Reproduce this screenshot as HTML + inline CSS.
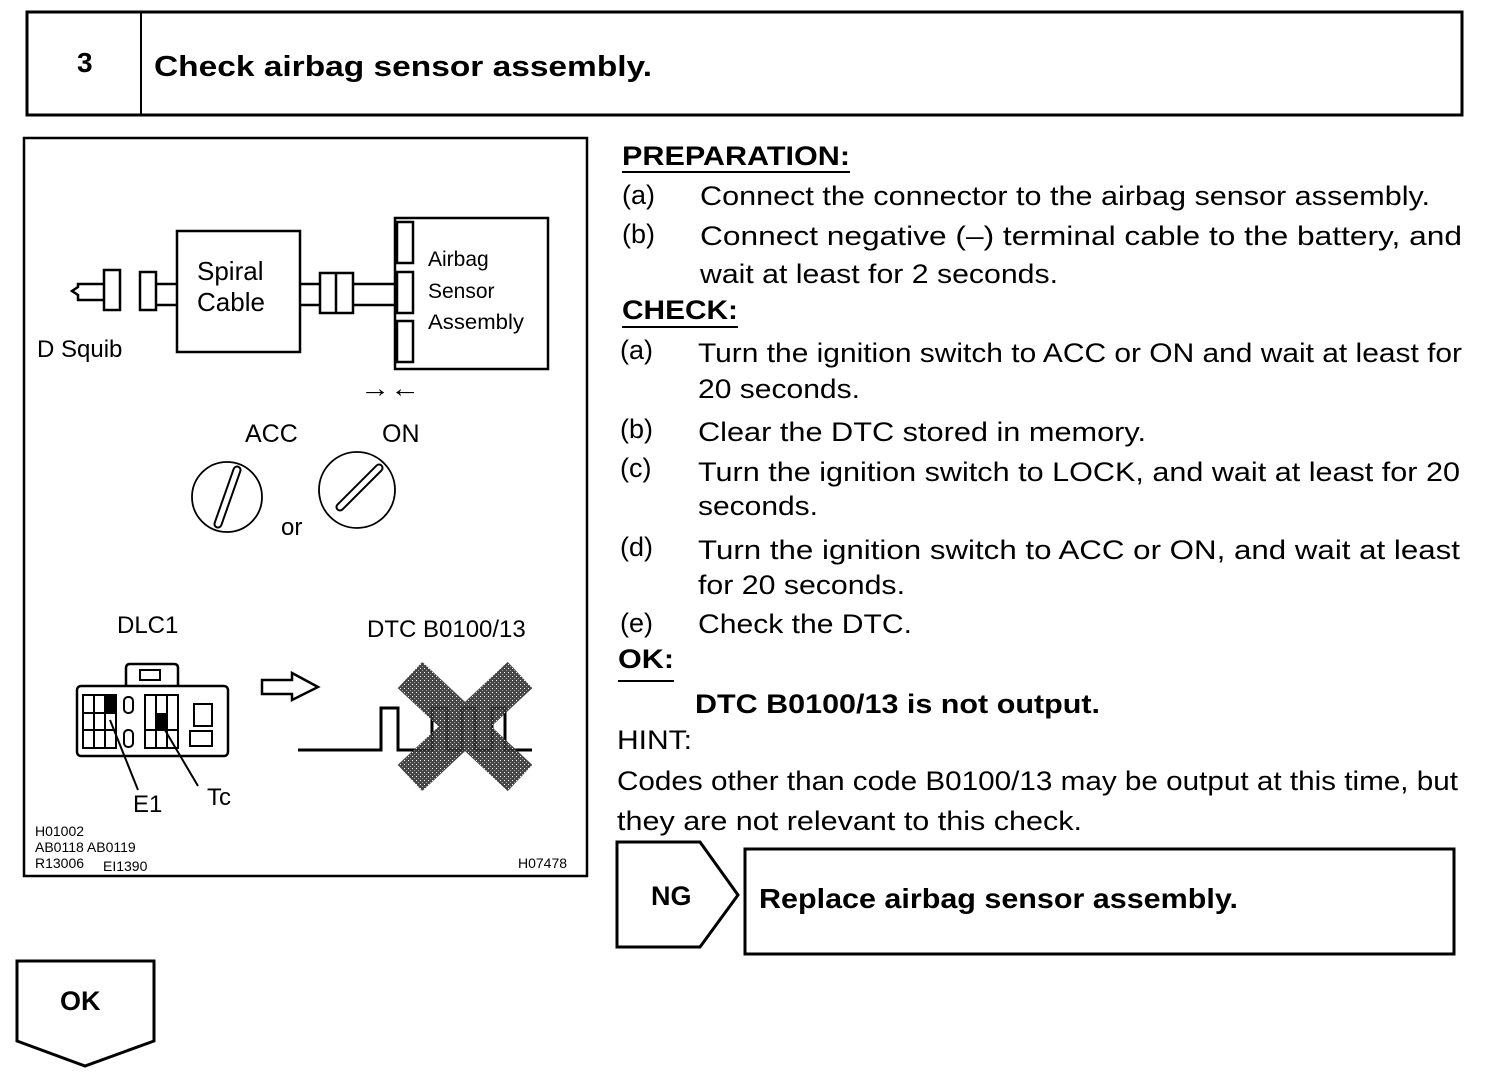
<!DOCTYPE html>
<html><head><meta charset="utf-8"><style>
html,body{margin:0;padding:0;background:#fff;}
svg{display:block;}
text{font-family:"Liberation Sans",Arial,sans-serif;fill:#000;}
.b{font-weight:bold;}
</style></head><body>
<svg width="1504" height="1074" viewBox="0 0 1504 1074" xmlns="http://www.w3.org/2000/svg">
<defs>
<pattern id="dots" width="4" height="4" patternUnits="userSpaceOnUse">
<rect width="4" height="4" fill="#333"/><rect x="0" y="0" width="1" height="1" fill="#fff"/><rect x="2" y="2" width="1" height="1" fill="#999"/>
</pattern>
</defs>
<rect x="27" y="12" width="1435" height="103" fill="none" stroke="#000" stroke-width="3"/>
<line x1="141" y1="12" x2="141" y2="115" stroke="#000" stroke-width="2"/>
<text x="77" y="72" font-size="28" class="b">3</text>
<text x="154" y="76" font-size="29" class="b" textLength="498" lengthAdjust="spacingAndGlyphs">Check airbag sensor assembly.</text>

<rect x="24" y="138" width="563" height="738" fill="none" stroke="#000" stroke-width="2.5"/>

<polyline points="103,284 78,284 78,287 72,291 78,295 78,300 103,300" fill="none" stroke="#000" stroke-width="2.5"/>
<rect x="104" y="270" width="16" height="40" fill="#fff" stroke="#000" stroke-width="2.5"/>
<rect x="140" y="272" width="16" height="38" fill="#fff" stroke="#000" stroke-width="2.5"/>
<line x1="156" y1="284" x2="177" y2="284" stroke="#000" stroke-width="2.5"/>
<line x1="156" y1="305" x2="177" y2="305" stroke="#000" stroke-width="2.5"/>
<rect x="177" y="231" width="123" height="121" fill="none" stroke="#000" stroke-width="2.5"/>
<text x="197" y="280" font-size="26">Spiral</text>
<text x="197" y="311" font-size="26">Cable</text>
<line x1="300" y1="284" x2="320" y2="284" stroke="#000" stroke-width="2.5"/>
<line x1="300" y1="305" x2="320" y2="305" stroke="#000" stroke-width="2.5"/>
<rect x="320" y="273" width="33" height="40" fill="#fff" stroke="#000" stroke-width="2.5"/>
<line x1="336" y1="273" x2="336" y2="313" stroke="#000" stroke-width="2.5"/>
<line x1="353" y1="284" x2="397" y2="284" stroke="#000" stroke-width="2.5"/>
<line x1="353" y1="305" x2="397" y2="305" stroke="#000" stroke-width="2.5"/>
<rect x="395" y="218" width="153" height="151" fill="none" stroke="#000" stroke-width="2.5"/>
<rect x="397" y="222" width="16" height="41" fill="#fff" stroke="#000" stroke-width="2.5"/>
<rect x="397" y="272" width="16" height="41" fill="#fff" stroke="#000" stroke-width="2.5"/>
<rect x="397" y="321" width="16" height="41" fill="#fff" stroke="#000" stroke-width="2.5"/>
<text x="428" y="266" font-size="21">Airbag</text>
<text x="428" y="298" font-size="21">Sensor</text>
<text x="428" y="329" font-size="21" textLength="96" lengthAdjust="spacingAndGlyphs">Assembly</text>
<text x="37" y="357" font-size="24">D Squib</text>
<text x="360" y="397" font-size="26" textLength="60" lengthAdjust="spacingAndGlyphs">→←</text>

<text x="245" y="442" font-size="25">ACC</text>
<text x="382" y="442" font-size="25">ON</text>
<circle cx="227" cy="497" r="35" fill="none" stroke="#000" stroke-width="1.8"/>
<line x1="237" y1="470" x2="218" y2="524" stroke="#000" stroke-width="9" stroke-linecap="round"/>
<line x1="237" y1="470" x2="218" y2="524" stroke="#fff" stroke-width="5" stroke-linecap="round"/>
<circle cx="357" cy="490" r="38" fill="none" stroke="#000" stroke-width="1.8"/>
<line x1="379" y1="468" x2="340" y2="507" stroke="#000" stroke-width="9" stroke-linecap="round"/>
<line x1="379" y1="468" x2="340" y2="507" stroke="#fff" stroke-width="5" stroke-linecap="round"/>
<text x="281" y="535" font-size="24">or</text>

<text x="117" y="633" font-size="24">DLC1</text>
<text x="367" y="637" font-size="24">DTC B0100/13</text>
<path d="M126,686 V668 Q126,664 130,664 H174 Q178,664 178,668 V686" fill="none" stroke="#000" stroke-width="2.5"/>
<rect x="140" y="670" width="20" height="10" fill="none" stroke="#000" stroke-width="2"/>
<rect x="77" y="686" width="151" height="70" rx="4" fill="none" stroke="#000" stroke-width="2.5"/>
<rect x="83" y="695" width="33" height="53" fill="none" stroke="#000" stroke-width="2"/>
<line x1="94" y1="695" x2="94" y2="748" stroke="#000" stroke-width="2"/>
<line x1="105" y1="695" x2="105" y2="748" stroke="#000" stroke-width="2"/>
<line x1="83" y1="713" x2="116" y2="713" stroke="#000" stroke-width="2"/>
<line x1="83" y1="730" x2="116" y2="730" stroke="#000" stroke-width="2"/>
<rect x="105" y="695" width="11" height="18" fill="#000"/>
<rect x="124" y="697" width="9" height="16" rx="4" fill="none" stroke="#000" stroke-width="2"/>
<rect x="124" y="730" width="9" height="17" rx="4" fill="none" stroke="#000" stroke-width="2"/>
<rect x="145" y="695" width="33" height="53" fill="none" stroke="#000" stroke-width="2"/>
<line x1="156" y1="695" x2="156" y2="748" stroke="#000" stroke-width="2"/>
<line x1="167" y1="695" x2="167" y2="748" stroke="#000" stroke-width="2"/>
<line x1="145" y1="730" x2="178" y2="730" stroke="#000" stroke-width="2"/>
<rect x="156" y="713" width="11" height="17" fill="#000"/>
<rect x="194" y="704" width="18" height="22" fill="none" stroke="#000" stroke-width="2"/>
<rect x="190" y="731" width="22" height="15" fill="none" stroke="#000" stroke-width="2"/>
<line x1="110" y1="720" x2="138" y2="790" stroke="#000" stroke-width="2"/>
<line x1="162" y1="725" x2="198" y2="786" stroke="#000" stroke-width="2"/>
<text x="133" y="812" font-size="24">E1</text>
<text x="207" y="805" font-size="24">Tc</text>
<polygon points="262,680 292,680 292,673 318,687 292,700 292,694 262,694" fill="none" stroke="#000" stroke-width="2.5"/>
<polyline points="298,750 381,750 381,708 398,708 398,750 432,750 432,708 447,708 447,750 462,750 462,708 475,708 475,750 492,750 492,708 505,708 505,750 532,750" fill="none" stroke="#000" stroke-width="3"/>
<g opacity="0.9">
<line x1="410" y1="675" x2="520" y2="778" stroke="url(#dots)" stroke-width="36"/>
<line x1="520" y1="675" x2="410" y2="778" stroke="url(#dots)" stroke-width="36"/>
</g>
<text x="35" y="836" font-size="14">H01002</text>
<text x="35" y="852" font-size="14">AB0118 AB0119</text>
<text x="35" y="868" font-size="14">R13006</text>
<text x="103" y="871" font-size="14">EI1390</text>
<text x="518" y="868" font-size="14">H07478</text>

<g font-size="27">
<text x="622" y="165" class="b" textLength="228" lengthAdjust="spacingAndGlyphs">PREPARATION:</text>
<line x1="622" y1="172" x2="850" y2="172" stroke="#000" stroke-width="2"/>
<text x="622" y="204">(a)</text>
<text x="700" y="205" textLength="730" lengthAdjust="spacingAndGlyphs">Connect the connector to the airbag sensor assembly.</text>
<text x="622" y="243">(b)</text>
<text x="700" y="245" textLength="762" lengthAdjust="spacingAndGlyphs">Connect negative (–) terminal cable to the battery, and</text>
<text x="700" y="283" textLength="358" lengthAdjust="spacingAndGlyphs">wait at least for 2 seconds.</text>
<text x="622" y="319" class="b" textLength="116" lengthAdjust="spacingAndGlyphs">CHECK:</text>
<line x1="622" y1="327" x2="738" y2="327" stroke="#000" stroke-width="2"/>
<text x="620" y="359">(a)</text>
<text x="698" y="362" textLength="764" lengthAdjust="spacingAndGlyphs">Turn the ignition switch to ACC or ON and wait at least for</text>
<text x="698" y="398" textLength="162" lengthAdjust="spacingAndGlyphs">20 seconds.</text>
<text x="620" y="438">(b)</text>
<text x="698" y="441" textLength="448" lengthAdjust="spacingAndGlyphs">Clear the DTC stored in memory.</text>
<text x="620" y="477">(c)</text>
<text x="698" y="481" textLength="762" lengthAdjust="spacingAndGlyphs">Turn the ignition switch to LOCK, and wait at least for 20</text>
<text x="698" y="515" textLength="120" lengthAdjust="spacingAndGlyphs">seconds.</text>
<text x="620" y="556">(d)</text>
<text x="698" y="559" textLength="762" lengthAdjust="spacingAndGlyphs">Turn the ignition switch to ACC or ON, and wait at least</text>
<text x="698" y="594" textLength="207" lengthAdjust="spacingAndGlyphs">for 20 seconds.</text>
<text x="620" y="632">(e)</text>
<text x="698" y="633" textLength="214" lengthAdjust="spacingAndGlyphs">Check the DTC.</text>
<text x="618" y="668" class="b" textLength="56" lengthAdjust="spacingAndGlyphs">OK:</text>
<line x1="618" y1="681" x2="674" y2="681" stroke="#000" stroke-width="2"/>
<text x="695" y="713" class="b" textLength="405" lengthAdjust="spacingAndGlyphs">DTC B0100/13 is not output.</text>
<text x="617" y="749" textLength="75" lengthAdjust="spacingAndGlyphs">HINT:</text>
<text x="617" y="790" textLength="841" lengthAdjust="spacingAndGlyphs">Codes other than code B0100/13 may be output at this time, but</text>
<text x="617" y="830" textLength="465" lengthAdjust="spacingAndGlyphs">they are not relevant to this check.</text>
</g>

<polygon points="617,842 700,842 738,895 700,947 617,947" fill="none" stroke="#000" stroke-width="3"/>
<text x="651" y="905" font-size="27" class="b">NG</text>
<rect x="745" y="849" width="709" height="105" fill="none" stroke="#000" stroke-width="3"/>
<text x="759" y="908" font-size="28" class="b" textLength="479" lengthAdjust="spacingAndGlyphs">Replace airbag sensor assembly.</text>

<polygon points="17,961 154,961 154,1041 85,1066 17,1041" fill="none" stroke="#000" stroke-width="3"/>
<text x="60" y="1010" font-size="27" class="b">OK</text>
</svg>
</body></html>
